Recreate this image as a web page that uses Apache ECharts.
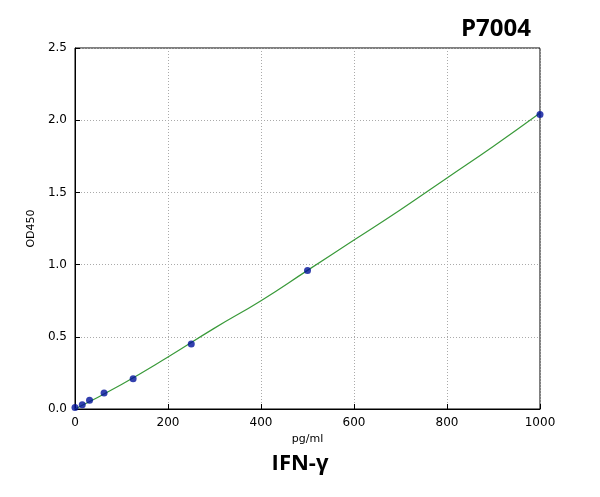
<!DOCTYPE html>
<html><head><meta charset="utf-8">
<script src="https://cdn.jsdelivr.net/npm/echarts@6/dist/echarts.min.js"></script>
<style>html,body{margin:0;padding:0;background:#fff}#c{width:600px;height:497px}</style>
</head><body><div id="c"></div>
<script>
const concentrations = [0, 15.6, 31.25, 62.5, 125, 250, 500, 1000];
const odValues = [0.01, 0.03, 0.06, 0.11, 0.21, 0.45, 0.96, 2.04];
const curveX = [0, 100, 200, 300, 400, 500, 600, 700, 800, 900, 1000];
const curveY = [0.0, 0.17, 0.36, 0.56, 0.75, 0.96, 1.17, 1.38, 1.60, 1.82, 2.05];
const xTicks = [0, 200, 400, 600, 800, 1000];
const yTicks = [0.0, 0.5, 1.0, 1.5, 2.0, 2.5];

const chart = echarts.init(document.getElementById('c'));
const axisCommon = {
  axisLine: {show: true, onZero: false, lineStyle: {color: '#000'}},
  axisTick: {show: true, inside: true, length: 5, lineStyle: {color: '#000'}},
  axisLabel: {color: '#000', fontSize: 12, fontFamily: 'DejaVu Sans'},
  splitLine: {show: true, lineStyle: {color: '#aaa', type: [1, 2]}},
  nameTextStyle: {color: '#000', fontSize: 11, fontFamily: 'DejaVu Sans'}
};
chart.setOption({
  animation: false,
  title: [
    {text: 'P7004', right: 64, top: 12, textStyle: {fontSize: 24, fontWeight: 'bold', color: '#000', fontFamily: 'Open Sans'}},
    {text: 'IFN-γ', left: 'center', top: 448, textStyle: {fontSize: 22, fontWeight: 'bold', color: '#000', fontFamily: 'Open Sans'}}
  ],
  grid: {left: 75, right: 60, top: 48, bottom: 88, show: true, borderColor: '#000', borderWidth: 1},
  xAxis: Object.assign({type: 'value', min: xTicks[0], max: xTicks[xTicks.length-1], interval: 200,
    name: 'pg/ml', nameLocation: 'middle', nameGap: 22}, axisCommon,
    {axisLabel: Object.assign({}, axisCommon.axisLabel, {margin: 8, formatter: v => String(v)})}),
  yAxis: Object.assign({type: 'value', min: yTicks[0], max: yTicks[yTicks.length-1], interval: 0.5,
    name: 'OD450', nameLocation: 'middle', nameGap: 35}, axisCommon,
    {axisLabel: Object.assign({}, axisCommon.axisLabel, {formatter: v => v.toFixed(1)})}),
  series: [
    {type: 'line', data: curveX.map((x, i) => [x, curveY[i]]), smooth: true, showSymbol: false,
      lineStyle: {color: '#3a9a3a', width: 1.2}, z: 2},
    {type: 'scatter', data: concentrations.map((x, i) => [x, odValues[i]]), symbolSize: 7,
      itemStyle: {color: '#00109a'}, z: 3}
  ]
});
</script></body></html>
